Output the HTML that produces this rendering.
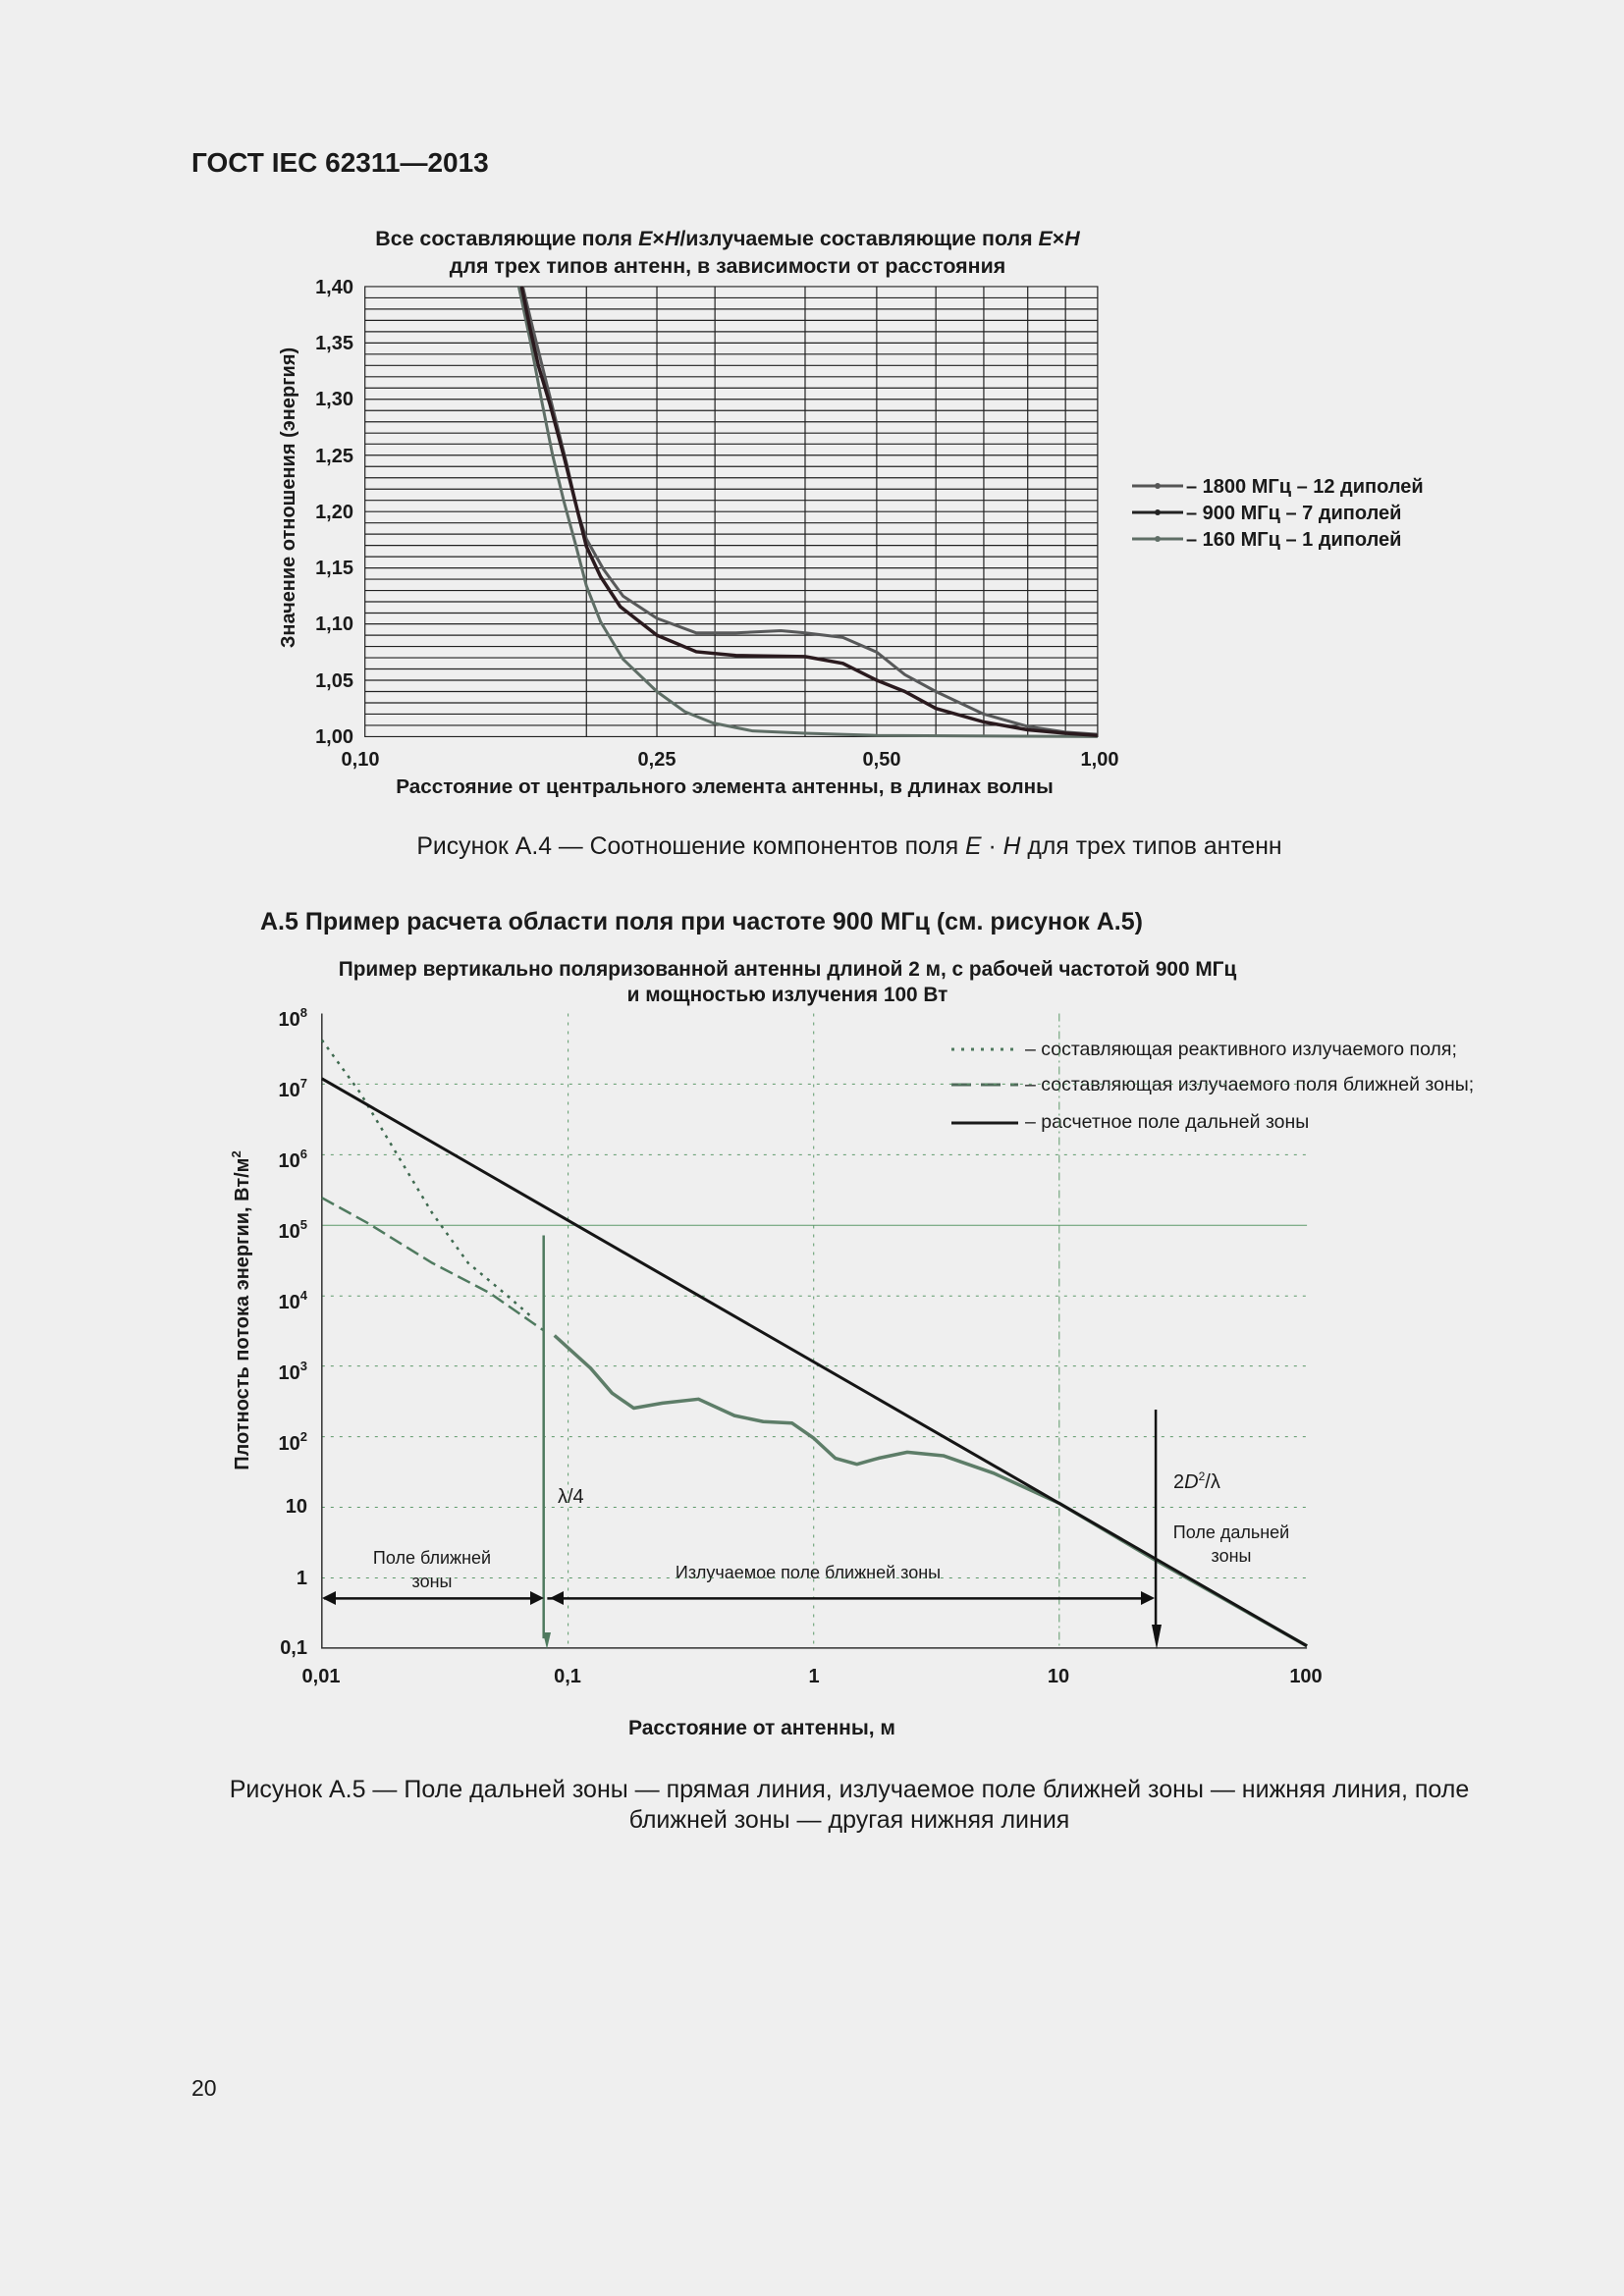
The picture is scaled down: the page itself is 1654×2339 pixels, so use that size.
<!DOCTYPE html>
<html><head><meta charset="utf-8"><style>
html,body{margin:0;padding:0;background:#efefef;}
body{width:1654px;height:2339px;position:relative;overflow:hidden;font-family:"Liberation Sans",sans-serif;color:#1a1a1a;}
.t{position:absolute;white-space:nowrap;}
svg{position:absolute;left:0;top:0;}
</style></head><body>
<div class="t" style="left:195px;top:150px;font-size:28px;font-weight:bold;">ГОСТ IEC 62311—2013</div>
<div class="t" style="left:0;width:1730px;text-align:center;top:849px;font-size:24.8px;">Рисунок А.4 — Соотношение компонентов поля <i>E</i> · <i>H</i> для трех типов антенн</div>
<div class="t" style="left:265px;top:925px;font-size:25px;font-weight:bold;">А.5 Пример расчета области поля при частоте 900 МГц (см. рисунок А.5)</div>
<div class="t" style="left:0;width:1730px;text-align:center;top:1808px;font-size:25px;line-height:31px;">Рисунок А.5 — Поле дальней зоны — прямая линия, излучаемое поле ближней зоны — нижняя линия, поле<br>ближней зоны — другая нижняя линия</div>
<div class="t" style="left:195px;top:2114px;font-size:23px;">20</div>

<svg width="1654" height="2339" xmlns="http://www.w3.org/2000/svg" font-family="Liberation Sans, sans-serif">
<g font-weight="bold" font-size="21.4" fill="#1a1a1a">
<text x="741" y="250" text-anchor="middle">Все составляющие поля <tspan font-style="italic">E</tspan>×<tspan font-style="italic">H</tspan>/излучаемые составляющие поля <tspan font-style="italic">E</tspan>×<tspan font-style="italic">H</tspan></text>
<text x="741" y="278" text-anchor="middle">для трех типов антенн, в зависимости от расстояния</text>
<g text-anchor="end" font-size="20">
<text x="360" y="299">1,40</text><text x="360" y="356">1,35</text><text x="360" y="413">1,30</text><text x="360" y="471">1,25</text><text x="360" y="528">1,20</text><text x="360" y="585">1,15</text><text x="360" y="642">1,10</text><text x="360" y="700">1,05</text><text x="360" y="757">1,00</text>
</g>
<g font-size="20" text-anchor="middle">
<text x="367" y="780">0,10</text><text x="669" y="780">0,25</text><text x="898" y="780">0,50</text><text x="1120" y="780">1,00</text>
</g>
<text x="738" y="808" text-anchor="middle" font-size="20.7">Расстояние от центрального элемента антенны, в длинах волны</text>
<text transform="translate(300,507) rotate(-90)" text-anchor="middle" font-size="20">Значение отношения (энергия)</text>
<g font-size="20">
<text x="1208" y="502">– 1800 МГц – 12 диполей</text>
<text x="1208" y="529">– 900 МГц – 7 диполей</text>
<text x="1208" y="556">– 160 МГц – 1 диполей</text>
</g>
</g>
<line x1="1153" y1="495" x2="1205" y2="495" stroke="#555" stroke-width="3"/>
<line x1="1153" y1="522" x2="1205" y2="522" stroke="#222" stroke-width="3"/>
<line x1="1153" y1="549" x2="1205" y2="549" stroke="#5f6e66" stroke-width="3"/>
<circle cx="1179" cy="495" r="3" fill="#555"/><circle cx="1179" cy="522" r="3" fill="#222"/><circle cx="1179" cy="549" r="3" fill="#5f6e66"/>
<g transform="translate(250,220) scale(0.5740,0.3827)" fill="none">
<g stroke="#222" stroke-width="1.2">
<rect x="212" y="188" width="1300" height="1198" vector-effect="non-scaling-stroke"/>
<path vector-effect="non-scaling-stroke" d="M605 188V1386M730 188V1386M833 188V1386M993 188V1386M1120 188V1386M1225 188V1386M1310 188V1386M1388 188V1386M1455 188V1386
M212 218H1512M212 248H1512M212 278H1512M212 308H1512M212 338H1512M212 368H1512M212 398H1512M212 428H1512M212 458H1512M212 488H1512M212 518H1512M212 548H1512M212 578H1512M212 607H1512M212 637H1512M212 667H1512M212 697H1512M212 727H1512M212 757H1512M212 787H1512M212 817H1512M212 847H1512M212 877H1512M212 907H1512M212 937H1512M212 967H1512M212 997H1512M212 1027H1512M212 1057H1512M212 1086H1512M212 1116H1512M212 1146H1512M212 1176H1512M212 1206H1512M212 1236H1512M212 1266H1512M212 1296H1512M212 1326H1512M212 1356H1512"/>
</g>
<polyline vector-effect="non-scaling-stroke" stroke="#5f6e66" stroke-width="3" stroke-linejoin="round" points="485,188 505,330 525,488 545,637 565,760 585,870 605,985 630,1080 670,1180 730,1266 780,1320 830,1350 900,1371 993,1377 1120,1383 1512,1386"/>
<polyline vector-effect="non-scaling-stroke" stroke="#58595a" stroke-width="3" stroke-linejoin="round" points="492,188 510,300 530,420 550,540 570,660 590,790 605,860 635,940 670,1012 730,1071 800,1110 870,1110 950,1104 993,1110 1060,1122 1120,1161 1170,1221 1225,1266 1310,1326 1388,1359 1455,1374 1512,1380"/>
<polyline vector-effect="non-scaling-stroke" stroke="#2a1a1e" stroke-width="3.5" stroke-linejoin="round" points="490,188 505,300 520,400 540,500 565,640 585,760 605,880 630,960 665,1040 730,1116 800,1160 870,1170 993,1173 1060,1191 1120,1236 1170,1266 1225,1311 1310,1347 1388,1368 1455,1377 1512,1383"/>
</g>

<g font-weight="bold" font-size="20.8" fill="#1a1a1a">
<text x="802" y="994" text-anchor="middle">Пример вертикально поляризованной антенны длиной 2 м, с рабочей частотой 900 МГц</text>
<text x="802" y="1020" text-anchor="middle">и мощностью излучения 100 Вт</text>
<g text-anchor="end" font-size="20">
<text x="313" y="1045">10<tspan font-size="13" dy="-9">8</tspan></text>
<text x="313" y="1117">10<tspan font-size="13" dy="-9">7</tspan></text>
<text x="313" y="1189">10<tspan font-size="13" dy="-9">6</tspan></text>
<text x="313" y="1261">10<tspan font-size="13" dy="-9">5</tspan></text>
<text x="313" y="1333">10<tspan font-size="13" dy="-9">4</tspan></text>
<text x="313" y="1405">10<tspan font-size="13" dy="-9">3</tspan></text>
<text x="313" y="1477">10<tspan font-size="13" dy="-9">2</tspan></text>
<text x="313" y="1541">10</text>
<text x="313" y="1614">1</text>
<text x="313" y="1685">0,1</text>
</g>
<g font-size="20" text-anchor="middle">
<text x="327" y="1714">0,01</text><text x="578" y="1714">0,1</text><text x="829" y="1714">1</text><text x="1078" y="1714">10</text><text x="1330" y="1714">100</text>
</g>
<text x="776" y="1767" text-anchor="middle" font-size="21">Расстояние от антенны, м</text>
<text transform="translate(253,1335) rotate(-90)" text-anchor="middle" font-size="20">Плотность потока энергии, Вт/м<tspan font-size="13" dy="-8">2</tspan></text>
<g font-size="19.5" font-weight="normal">
<text x="1044" y="1075">– составляющая реактивного излучаемого поля;</text>
<text x="1044" y="1111">– составляющая излучаемого поля ближней зоны;</text>
<text x="1044" y="1149">– расчетное поле дальней зоны</text>
</g>
<g font-size="18" font-weight="normal" text-anchor="middle">
<text x="440" y="1593">Поле ближней</text><text x="440" y="1617">зоны</text>
<text x="823" y="1608">Излучаемое поле ближней зоны</text>
<text x="1254" y="1567">Поле дальней</text><text x="1254" y="1591">зоны</text>
</g>
<text x="568" y="1531" font-size="20" font-weight="normal">λ/4</text>
<text x="1195" y="1516" font-size="20" font-weight="normal">2<tspan font-style="italic">D</tspan><tspan font-size="12" dy="-8">2</tspan><tspan dy="8">/λ</tspan></text>
</g>
<line x1="969" y1="1069" x2="1037" y2="1069" stroke="#4f7a5f" stroke-width="3" stroke-dasharray="3,7"/>
<line x1="969" y1="1105" x2="1037" y2="1105" stroke="#4f6a5a" stroke-width="3" stroke-dasharray="20,10"/>
<line x1="969" y1="1144" x2="1037" y2="1144" stroke="#1a1a1a" stroke-width="3"/>
<g transform="translate(220,960) scale(0.7334,0.5102)" fill="none">
<g stroke="#5d9a6a" stroke-width="1">
<path vector-effect="non-scaling-stroke" stroke-dasharray="3,6" d="M147 283H1515M147 424H1515M147 706H1515M147 846H1515M147 987H1515M147 1128H1515M147 1269H1515M489 142V1409M830 142V1409"/>
<path vector-effect="non-scaling-stroke" d="M147 565H1515"/>
<path vector-effect="non-scaling-stroke" stroke-dasharray="8,4,2,4" d="M1171 142V1409"/>
</g>
<path vector-effect="non-scaling-stroke" stroke="#333" stroke-width="1.5" d="M147 142V1409H1515"/>
<polyline vector-effect="non-scaling-stroke" stroke="#3f6a50" stroke-width="2.5" stroke-dasharray="3,6" points="147,195 200,300 250,420 300,540 350,640 400,700 440,750"/>
<polyline vector-effect="non-scaling-stroke" stroke="#4f7a5f" stroke-width="2.5" stroke-dasharray="14,6" points="147,510 210,560 300,640 380,700 440,760 455,775"/>
<polyline vector-effect="non-scaling-stroke" stroke="#5d7d68" stroke-width="3.5" stroke-linejoin="round" points="470,785 520,850 550,900 580,930 620,920 670,912 720,945 760,957 800,960 830,990 860,1030 890,1042 920,1030 960,1018 1010,1025 1080,1060 1171,1120 1300,1230 1515,1405"/>
<polyline vector-effect="non-scaling-stroke" stroke="#151515" stroke-width="3" points="147,272 1515,1405"/>
<path vector-effect="non-scaling-stroke" stroke="#4f7a5f" stroke-width="2.5" d="M455 585V1390"/>
<path vector-effect="non-scaling-stroke" stroke="#111" stroke-width="2.5" d="M1305 933V1390M150 1310H450M460 1310H1300"/>
</g>
<polygon points="553,1663 561,1663 557,1680" fill="#4f7a5f"/>
<polygon points="1173,1655 1183,1655 1178,1680" fill="#111"/>
<polygon points="328,1628 342,1621 342,1635" fill="#111"/>
<polygon points="554,1628 540,1621 540,1635" fill="#111"/>
<polygon points="560,1628 574,1621 574,1635" fill="#111"/>
<polygon points="1176,1628 1162,1621 1162,1635" fill="#111"/>
</svg>
</body></html>
